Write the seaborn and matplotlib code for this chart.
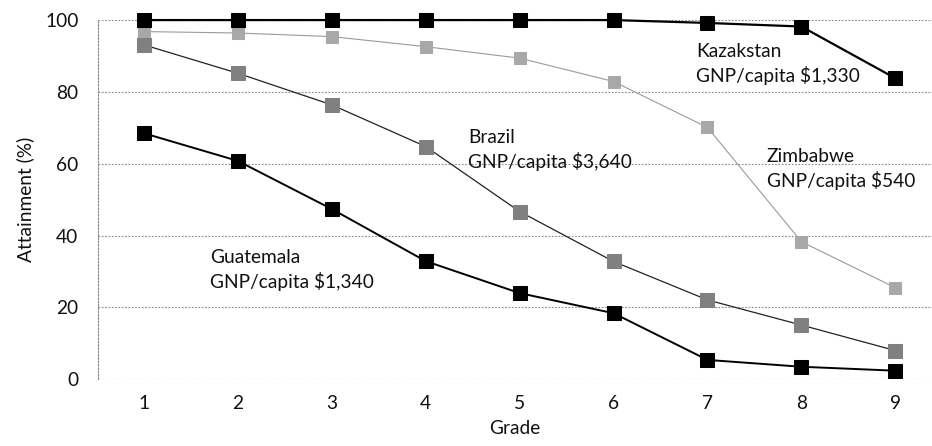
import pandas as pd
import matplotlib
matplotlib.use("Agg")
import matplotlib.pyplot as plt
import seaborn as sns

# values
grades = [1, 2, 3, 4, 5, 6, 7, 8, 9]
kazakstan = [100, 100, 100, 100, 100, 100, 99.2, 98.2, 83.8]
zimbabwe = [96.8, 96.4, 95.4, 92.6, 89.4, 82.9, 70.1, 38.3, 25.5]
brazil = [93.1, 85.2, 76.4, 64.8, 46.7, 32.8, 22.1, 15.1, 8.0]
guatemala = [68.5, 60.8, 47.4, 32.9, 24.0, 18.4, 5.4, 3.5, 2.4]

labels = {
    "Kazakstan": "Kazakstan\nGNP/capita $1,330",
    "Brazil": "Brazil\nGNP/capita $3,640",
    "Zimbabwe": "Zimbabwe\nGNP/capita $540",
    "Guatemala": "Guatemala\nGNP/capita $1,340",
}
label_pos = {
    "Kazakstan": (6.88, 87.8),
    "Brazil": (4.45, 63.9),
    "Zimbabwe": (7.63, 58.6),
    "Guatemala": (1.70, 30.5),
}

sns.set_theme(style="white")
plt.rcParams['font.family'] = ['Lato', 'DejaVu Sans']
FS = 13.8

df = pd.DataFrame({
    "Grade": grades * 4,
    "Attainment": kazakstan + zimbabwe + brazil + guatemala,
    "Country": ["Kazakstan"] * 9 + ["Zimbabwe"] * 9 + ["Brazil"] * 9 + ["Guatemala"] * 9,
})

styles = {
    "Zimbabwe": dict(color="#9a9a9a", lw=0.8, mfc="#a8a8a8", mec="#a8a8a8", ms=9),
    "Brazil": dict(color="#222222", lw=0.9, mfc="#808080", mec="#808080", ms=9.5),
    "Guatemala": dict(color="black", lw=1.4, mfc="black", mec="black", ms=10),
    "Kazakstan": dict(color="black", lw=1.6, mfc="black", mec="black", ms=10),
}

fig = plt.figure(figsize=(9.32, 4.46), dpi=100)
ax = fig.add_axes([0.105, 0.1495, 0.895, 0.8055])

for country, st in styles.items():
    sub = df[df["Country"] == country]
    sns.lineplot(data=sub, x="Grade", y="Attainment", ax=ax, color=st["color"],
                 linewidth=st["lw"], marker="s", markersize=st["ms"],
                 markerfacecolor=st["mfc"], markeredgecolor=st["mec"],
                 clip_on=False, zorder=3)

for country, txt in labels.items():
    x, y = label_pos[country]
    ax.text(x, y, txt, ha="left", va="center", fontsize=FS, linespacing=1.35,
            color="#111111")

ax.set_xlim(0.51, 9.39)
ax.set_ylim(0, 100)
ax.set_xticks(grades)
ax.set_yticks([0, 20, 40, 60, 80, 100])
ax.tick_params(axis="both", labelsize=FS, length=0, colors="#111111")
ax.tick_params(axis="x", pad=11)
ax.tick_params(axis="y", pad=14)
ax.grid(axis="y", color="#888888", linestyle=(0, (1.5, 1.5)), linewidth=0.8)
for s in ["top", "right", "bottom"]:
    ax.spines[s].set_visible(False)
ax.spines["left"].set_linestyle((0, (1.5, 1.5)))
ax.spines["left"].set_color("#888888")
ax.spines["left"].set_linewidth(0.8)
ax.set_xlabel("Grade", fontsize=FS, labelpad=6, color="#111111")
ax.set_ylabel("Attainment (%)", fontsize=FS, labelpad=8, color="#111111")

fig.savefig("out.png", dpi=100)
